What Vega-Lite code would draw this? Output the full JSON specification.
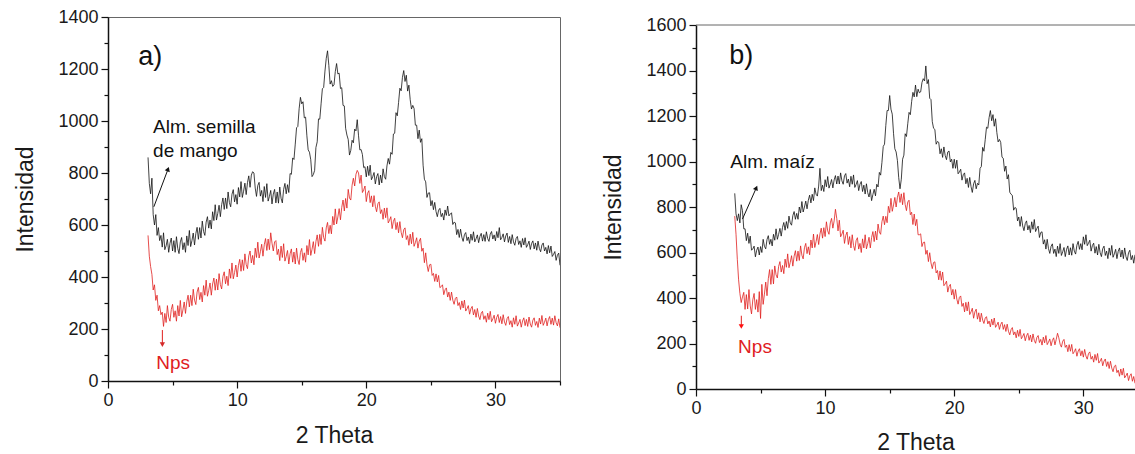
{
"$schema": "https://vega.github.io/schema/vega-lite/v6.json",
"background": "white",
"padding": {"left": 14, "top": 7, "right": 0, "bottom": 0},
"spacing": 40,
"config": {
  "font": "Liberation Sans",
  "view": {"stroke": null},
  "axis": {"labelFont": "Liberation Sans", "labelFontSize": 18, "labelColor": "#1a1a1a", "titleFont": "Liberation Sans", "titleFontSize": 23, "titleFontWeight": "normal", "titleColor": "#1a1a1a", "domainColor": "#111111", "domainWidth": 1.5, "tickColor": "#111111", "tickWidth": 1.2, "grid": false, "labelFlush": false, "labelOverlap": false, "format": "d"}
},
"datasets": {
"a": [
{"x":3.1,"k":860,"r":560},{"x":3.2,"k":760,"r":480},{"x":3.3,"k":720,"r":440},{"x":3.4,"k":780,"r":410},{"x":3.5,"k":640,"r":350},
{"x":3.6,"k":600,"r":370},{"x":3.7,"k":640,"r":310},{"x":3.8,"k":560,"r":330},{"x":3.9,"k":590,"r":270},{"x":4.0,"k":540,"r":290},
{"x":4.1,"k":560,"r":255},{"x":4.2,"k":515,"r":265},{"x":4.3,"k":570,"r":210},{"x":4.4,"k":505,"r":260},{"x":4.5,"k":520,"r":225},
{"x":4.6,"k":545,"r":290},{"x":4.7,"k":495,"r":245},{"x":4.8,"k":530,"r":230},{"x":4.9,"k":550,"r":275},{"x":5.0,"k":500,"r":295},
{"x":5.1,"k":540,"r":245},{"x":5.2,"k":495,"r":270},{"x":5.3,"k":555,"r":230},{"x":5.4,"k":510,"r":290},{"x":5.5,"k":490,"r":250},
{"x":5.6,"k":535,"r":310},{"x":5.7,"k":552,"r":247},{"x":5.8,"k":505,"r":273},{"x":5.9,"k":532,"r":304},{"x":6.0,"k":495,"r":260},
{"x":6.1,"k":558,"r":305},{"x":6.2,"k":521,"r":330},{"x":6.3,"k":579,"r":285},{"x":6.4,"k":517,"r":330},{"x":6.5,"k":540,"r":290},
{"x":6.6,"k":569,"r":353},{"x":6.7,"k":523,"r":311},{"x":6.8,"k":567,"r":294},{"x":6.9,"k":591,"r":342},{"x":7.0,"k":545,"r":360},
{"x":7.1,"k":590,"r":313},{"x":7.2,"k":550,"r":341},{"x":7.3,"k":615,"r":304},{"x":7.4,"k":575,"r":367},{"x":7.5,"k":560,"r":330},
{"x":7.6,"k":611,"r":388},{"x":7.7,"k":632,"r":326},{"x":7.8,"k":588,"r":349},{"x":7.9,"k":619,"r":377},{"x":8.0,"k":585,"r":330},
{"x":8.1,"k":651,"r":373},{"x":8.2,"k":617,"r":396},{"x":8.3,"k":678,"r":349},{"x":8.4,"k":619,"r":392},{"x":8.5,"k":645,"r":350},
{"x":8.6,"k":676,"r":413},{"x":8.7,"k":632,"r":371},{"x":8.8,"k":678,"r":354},{"x":8.9,"k":704,"r":402},{"x":9.0,"k":660,"r":420},
{"x":9.1,"k":704,"r":374},{"x":9.2,"k":663,"r":403},{"x":9.3,"k":727,"r":367},{"x":9.4,"k":686,"r":431},{"x":9.5,"k":670,"r":395},
{"x":9.6,"k":718,"r":454},{"x":9.7,"k":736,"r":393},{"x":9.8,"k":689,"r":417},{"x":9.9,"k":717,"r":446},{"x":10.0,"k":680,"r":400},
{"x":10.1,"k":744,"r":444},{"x":10.2,"k":708,"r":468},{"x":10.3,"k":767,"r":422},{"x":10.4,"k":706,"r":466},{"x":10.5,"k":730,"r":425},
{"x":10.6,"k":761,"r":489},{"x":10.7,"k":717,"r":448},{"x":10.8,"k":763,"r":432},{"x":10.9,"k":789,"r":481},{"x":11.0,"k":745,"r":500},
{"x":11.1,"k":792,"r":454},{"x":11.2,"k":805,"r":483},{"x":11.3,"k":800,"r":447},{"x":11.4,"k":742,"r":511},{"x":11.5,"k":710,"r":475},
{"x":11.6,"k":752,"r":534},{"x":11.7,"k":764,"r":473},{"x":11.8,"k":711,"r":497},{"x":11.9,"k":733,"r":526},{"x":12.0,"k":690,"r":480},
{"x":12.1,"k":748,"r":524},{"x":12.2,"k":706,"r":548},{"x":12.3,"k":759,"r":502},{"x":12.4,"k":692,"r":546},{"x":12.5,"k":710,"r":505},
{"x":12.6,"k":733,"r":570},{"x":12.7,"k":681,"r":530},{"x":12.8,"k":719,"r":500},{"x":12.9,"k":737,"r":535},{"x":13.0,"k":685,"r":540},
{"x":13.1,"k":727,"r":486},{"x":13.2,"k":684,"r":507},{"x":13.3,"k":746,"r":463},{"x":13.4,"k":703,"r":519},{"x":13.5,"k":685,"r":475},
{"x":13.6,"k":737,"r":528},{"x":13.7,"k":760,"r":461},{"x":13.8,"k":720,"r":479},{"x":13.9,"k":755,"r":502},{"x":14.0,"k":725,"r":450},
{"x":14.1,"k":798,"r":489},{"x":14.2,"k":795,"r":508},{"x":14.3,"k":858,"r":457},{"x":14.4,"k":852,"r":496},{"x":14.5,"k":911,"r":450},
{"x":14.6,"k":974,"r":511},{"x":14.7,"k":979,"r":467},{"x":14.8,"k":1047,"r":448},{"x":14.9,"k":1091,"r":494},{"x":15.0,"k":1066,"r":510},
{"x":15.1,"k":1074,"r":464},{"x":15.2,"k":1012,"r":493},{"x":15.3,"k":1015,"r":457},{"x":15.4,"k":943,"r":521},{"x":15.5,"k":889,"r":485},
{"x":15.6,"k":880,"r":544},{"x":15.7,"k":851,"r":483},{"x":15.8,"k":786,"r":507},{"x":15.9,"k":794,"r":536},{"x":16.0,"k":810,"r":490},
{"x":16.1,"k":898,"r":536},{"x":16.2,"k":920,"r":562},{"x":16.3,"k":1008,"r":518},{"x":16.4,"k":1007,"r":564},{"x":16.5,"k":1066,"r":525},
{"x":16.6,"k":1124,"r":591},{"x":16.7,"k":1129,"r":552},{"x":16.8,"k":1192,"r":538},{"x":16.9,"k":1241,"r":589},{"x":17.0,"k":1270,"r":610},
{"x":17.1,"k":1214,"r":567},{"x":17.2,"k":1142,"r":599},{"x":17.3,"k":1155,"r":566},{"x":17.4,"k":1133,"r":633},{"x":17.5,"k":1139,"r":600},
{"x":17.6,"k":1190,"r":662},{"x":17.7,"k":1221,"r":604},{"x":17.8,"k":1181,"r":631},{"x":17.9,"k":1184,"r":663},{"x":18.0,"k":1125,"r":620},
{"x":18.1,"k":1128,"r":668},{"x":18.2,"k":1060,"r":696},{"x":18.3,"k":1058,"r":654},{"x":18.4,"k":972,"r":702},{"x":18.5,"k":946,"r":665},
{"x":18.6,"k":929,"r":737},{"x":18.7,"k":869,"r":704},{"x":18.8,"k":887,"r":696},{"x":18.9,"k":926,"r":753},{"x":19.0,"k":916,"r":780},
{"x":19.1,"k":969,"r":750},{"x":19.2,"k":962,"r":795},{"x":19.3,"k":1005,"r":810},{"x":19.4,"k":943,"r":800},{"x":19.5,"k":889,"r":760},
{"x":19.6,"k":890,"r":792},{"x":19.7,"k":871,"r":725},{"x":19.8,"k":821,"r":735},{"x":19.9,"k":824,"r":750},{"x":20.0,"k":785,"r":690},
{"x":20.1,"k":826,"r":722},{"x":20.2,"k":790,"r":732},{"x":20.3,"k":830,"r":686},{"x":20.4,"k":774,"r":712},{"x":20.5,"k":786,"r":670},
{"x":20.6,"k":802,"r":713},{"x":20.7,"k":758,"r":672},{"x":20.8,"k":786,"r":651},{"x":20.9,"k":798,"r":682},{"x":21.0,"k":754,"r":689},
{"x":21.1,"k":792,"r":644},{"x":21.2,"k":762,"r":659},{"x":21.3,"k":816,"r":622},{"x":21.4,"k":786,"r":665},{"x":21.5,"k":776,"r":628},
{"x":21.6,"k":827,"r":666},{"x":21.7,"k":856,"r":608},{"x":21.8,"k":834,"r":618},{"x":21.9,"k":879,"r":632},{"x":22.0,"k":872,"r":586},
{"x":22.1,"k":950,"r":614},{"x":22.2,"k":953,"r":626},{"x":22.3,"k":1032,"r":582},{"x":22.4,"k":1020,"r":610},{"x":22.5,"k":1071,"r":570},
{"x":22.6,"k":1126,"r":613},{"x":22.7,"k":1116,"r":572},{"x":22.8,"k":1168,"r":551},{"x":22.9,"k":1194,"r":582},{"x":23.0,"k":1152,"r":589},
{"x":23.1,"k":1176,"r":544},{"x":23.2,"k":1115,"r":559},{"x":23.3,"k":1138,"r":522},{"x":23.4,"k":1082,"r":565},{"x":23.5,"k":1046,"r":528},
{"x":23.6,"k":1060,"r":572},{"x":23.7,"k":1048,"r":518},{"x":23.8,"k":984,"r":532},{"x":23.9,"k":984,"r":551},{"x":24.0,"k":932,"r":511},
{"x":24.1,"k":965,"r":538},{"x":24.2,"k":918,"r":549},{"x":24.3,"k":932,"r":499},{"x":24.4,"k":830,"r":511},{"x":24.5,"k":776,"r":455},
{"x":24.6,"k":766,"r":493},{"x":24.7,"k":706,"r":447},{"x":24.8,"k":723,"r":421},{"x":24.9,"k":724,"r":447},{"x":25.0,"k":674,"r":449},
{"x":25.1,"k":694,"r":406},{"x":25.2,"k":659,"r":414},{"x":25.3,"k":687,"r":383},{"x":25.4,"k":652,"r":412},{"x":25.5,"k":632,"r":381},
{"x":25.6,"k":657,"r":406},{"x":25.7,"k":664,"r":359},{"x":25.8,"k":632,"r":363},{"x":25.9,"k":645,"r":370},{"x":26.0,"k":619,"r":332},
{"x":26.1,"k":658,"r":351},{"x":26.2,"k":637,"r":358},{"x":26.3,"k":673,"r":323},{"x":26.4,"k":635,"r":342},{"x":26.5,"k":642,"r":310},
{"x":26.6,"k":647,"r":342},{"x":26.7,"k":602,"r":311},{"x":26.8,"k":611,"r":295},{"x":26.9,"k":608,"r":318},{"x":27.0,"k":563,"r":323},
{"x":27.1,"k":583,"r":290},{"x":27.2,"k":552,"r":302},{"x":27.3,"k":584,"r":275},{"x":27.4,"k":553,"r":308},{"x":27.5,"k":537,"r":281},
{"x":27.6,"k":563,"r":311},{"x":27.7,"k":571,"r":269},{"x":27.8,"k":540,"r":278},{"x":27.9,"k":554,"r":290},{"x":28.0,"k":529,"r":257},
{"x":28.1,"k":565,"r":278},{"x":28.2,"k":541,"r":287},{"x":28.3,"k":574,"r":254},{"x":28.4,"k":535,"r":275},{"x":28.5,"k":547,"r":245},
{"x":28.6,"k":562,"r":279},{"x":28.7,"k":532,"r":250},{"x":28.8,"k":556,"r":236},{"x":28.9,"k":568,"r":261},{"x":29.0,"k":538,"r":268},
{"x":29.1,"k":563,"r":237},{"x":29.2,"k":537,"r":251},{"x":29.3,"k":574,"r":226},{"x":29.4,"k":548,"r":261},{"x":29.5,"k":537,"r":236},
{"x":29.6,"k":565,"r":268},{"x":29.7,"k":575,"r":228},{"x":29.8,"k":546,"r":239},{"x":29.9,"k":562,"r":253},{"x":30.0,"k":539,"r":222},
{"x":30.1,"k":575,"r":245},{"x":30.2,"k":551,"r":256},{"x":30.3,"k":590,"r":225},{"x":30.4,"k":543,"r":248},{"x":30.5,"k":552,"r":220},
{"x":30.6,"k":566,"r":255},{"x":30.7,"k":535,"r":227},{"x":30.8,"k":558,"r":214},{"x":30.9,"k":569,"r":240},{"x":31.0,"k":533,"r":248},
{"x":31.1,"k":556,"r":217},{"x":31.2,"k":528,"r":232},{"x":31.3,"k":563,"r":207},{"x":31.4,"k":535,"r":243},{"x":31.5,"k":522,"r":218},
{"x":31.6,"k":548,"r":251},{"x":31.7,"k":556,"r":211},{"x":31.8,"k":525,"r":223},{"x":31.9,"k":539,"r":237},{"x":32.0,"k":514,"r":207},
{"x":32.1,"k":548,"r":231},{"x":32.2,"k":523,"r":243},{"x":32.3,"k":551,"r":213},{"x":32.4,"k":514,"r":237},{"x":32.5,"k":524,"r":210},
{"x":32.6,"k":538,"r":246},{"x":32.7,"k":506,"r":219},{"x":32.8,"k":529,"r":207},{"x":32.9,"k":539,"r":234},{"x":33.0,"k":508,"r":243},
{"x":33.1,"k":531,"r":214},{"x":33.2,"k":503,"r":229},{"x":33.3,"k":538,"r":206},{"x":33.4,"k":510,"r":242},{"x":33.5,"k":497,"r":219},
{"x":33.6,"k":523,"r":252},{"x":33.7,"k":531,"r":214},{"x":33.8,"k":500,"r":226},{"x":33.9,"k":514,"r":242},{"x":34.0,"k":489,"r":212},
{"x":34.1,"k":521,"r":236},{"x":34.2,"k":493,"r":248},{"x":34.3,"k":519,"r":218},{"x":34.4,"k":479,"r":242},{"x":34.5,"k":487,"r":215},
{"x":34.6,"k":498,"r":251},{"x":34.7,"k":464,"r":224},{"x":34.8,"k":484,"r":212},{"x":34.9,"k":492,"r":239},{"x":35.0,"k":445,"r":205}
],
"b": [
{"x":3.0,"k":860,"r":760},{"x":3.1,"k":770,"r":680},{"x":3.2,"k":740,"r":570},{"x":3.3,"k":770,"r":480},{"x":3.4,"k":730,"r":420},
{"x":3.5,"k":810,"r":380},{"x":3.6,"k":784,"r":405},{"x":3.7,"k":704,"r":425},{"x":3.8,"k":704,"r":350},{"x":3.9,"k":652,"r":415},
{"x":4.0,"k":685,"r":352},{"x":4.1,"k":640,"r":437},{"x":4.2,"k":672,"r":365},{"x":4.3,"k":610,"r":330},{"x":4.4,"k":616,"r":392},
{"x":4.5,"k":628,"r":420},{"x":4.6,"k":581,"r":350},{"x":4.7,"k":610,"r":393},{"x":4.8,"k":624,"r":338},{"x":4.9,"k":589,"r":428},
{"x":5.0,"k":626,"r":310},{"x":5.1,"k":600,"r":460},{"x":5.2,"k":658,"r":372},{"x":5.3,"k":627,"r":417},{"x":5.4,"k":616,"r":470},
{"x":5.5,"k":657,"r":410},{"x":5.6,"k":674,"r":485},{"x":5.7,"k":636,"r":525},{"x":5.8,"k":658,"r":460},{"x":5.9,"k":629,"r":525},
{"x":6.0,"k":680,"r":462},{"x":6.1,"k":654,"r":541},{"x":6.2,"k":704,"r":502},{"x":6.3,"k":658,"r":488},{"x":6.4,"k":680,"r":539},
{"x":6.5,"k":706,"r":560},{"x":6.6,"k":672,"r":514},{"x":6.7,"k":710,"r":543},{"x":6.8,"k":732,"r":507},{"x":6.9,"k":698,"r":571},
{"x":7.0,"k":736,"r":535},{"x":7.1,"k":706,"r":594},{"x":7.2,"k":760,"r":533},{"x":7.3,"k":730,"r":557},{"x":7.4,"k":720,"r":586},
{"x":7.5,"k":762,"r":540},{"x":7.6,"k":780,"r":584},{"x":7.7,"k":746,"r":608},{"x":7.8,"k":772,"r":562},{"x":7.9,"k":746,"r":606},
{"x":8.0,"k":800,"r":565},{"x":8.1,"k":774,"r":629},{"x":8.2,"k":824,"r":588},{"x":8.3,"k":778,"r":572},{"x":8.4,"k":800,"r":621},
{"x":8.5,"k":826,"r":640},{"x":8.6,"k":792,"r":595},{"x":8.7,"k":830,"r":625},{"x":8.8,"k":852,"r":590},{"x":8.9,"k":818,"r":655},
{"x":9.0,"k":856,"r":620},{"x":9.1,"k":828,"r":681},{"x":9.2,"k":884,"r":622},{"x":9.3,"k":856,"r":648},{"x":9.4,"k":848,"r":679},
{"x":9.5,"k":892,"r":635},{"x":9.6,"k":970,"r":681},{"x":9.7,"k":872,"r":707},{"x":9.8,"k":896,"r":663},{"x":9.9,"k":868,"r":709},
{"x":10.0,"k":920,"r":670},{"x":10.1,"k":889,"r":735},{"x":10.2,"k":934,"r":695},{"x":10.3,"k":883,"r":680},{"x":10.4,"k":900,"r":730},
{"x":10.5,"k":921,"r":750},{"x":10.6,"k":884,"r":707},{"x":10.7,"k":919,"r":739},{"x":10.8,"k":938,"r":790},{"x":10.9,"k":901,"r":750},
{"x":11.0,"k":936,"r":695},{"x":11.1,"k":901,"r":742},{"x":11.2,"k":950,"r":669},{"x":11.3,"k":915,"r":681},{"x":11.4,"k":900,"r":698},
{"x":11.5,"k":937,"r":640},{"x":11.6,"k":947,"r":675},{"x":11.7,"k":905,"r":690},{"x":11.8,"k":923,"r":635},{"x":11.9,"k":889,"r":670},
{"x":12.0,"k":935,"r":620},{"x":12.1,"k":900,"r":678},{"x":12.2,"k":941,"r":631},{"x":12.3,"k":886,"r":609},{"x":12.4,"k":899,"r":652},
{"x":12.5,"k":916,"r":665},{"x":12.6,"k":872,"r":615},{"x":12.7,"k":900,"r":640},{"x":12.8,"k":912,"r":600},{"x":12.9,"k":868,"r":660},
{"x":13.0,"k":896,"r":620},{"x":13.1,"k":857,"r":678},{"x":13.2,"k":902,"r":616},{"x":13.3,"k":863,"r":639},{"x":13.4,"k":844,"r":667},
{"x":13.5,"k":877,"r":620},{"x":13.6,"k":828,"r":666},{"x":13.7,"k":855,"r":692},{"x":13.8,"k":878,"r":648},{"x":13.9,"k":849,"r":694},
{"x":14.0,"k":900,"r":655},{"x":14.1,"k":888,"r":725},{"x":14.2,"k":952,"r":690},{"x":14.3,"k":940,"r":680},{"x":14.4,"k":996,"r":735},
{"x":14.5,"k":1066,"r":760},{"x":14.6,"k":1076,"r":722},{"x":14.7,"k":1158,"r":759},{"x":14.8,"k":1224,"r":731},{"x":14.9,"k":1224,"r":803},
{"x":15.0,"k":1290,"r":775},{"x":15.1,"k":1230,"r":838},{"x":15.2,"k":1208,"r":781},{"x":15.3,"k":1122,"r":809},{"x":15.4,"k":1056,"r":842},
{"x":15.5,"k":1042,"r":800},{"x":15.6,"k":1004,"r":843},{"x":15.7,"k":929,"r":866},{"x":15.8,"k":880,"r":820},{"x":15.9,"k":922,"r":858},
{"x":16.0,"k":1010,"r":810},{"x":16.1,"k":1028,"r":863},{"x":16.2,"k":1122,"r":811},{"x":16.3,"k":1110,"r":784},{"x":16.4,"k":1166,"r":822},
{"x":16.5,"k":1216,"r":830},{"x":16.6,"k":1206,"r":766},{"x":16.7,"k":1263,"r":777},{"x":16.8,"k":1304,"r":723},{"x":16.9,"k":1284,"r":769},
{"x":17.0,"k":1336,"r":718},{"x":17.1,"k":1285,"r":746},{"x":17.2,"k":1318,"r":678},{"x":17.3,"k":1302,"r":678},{"x":17.4,"k":1306,"r":682},
{"x":17.5,"k":1347,"r":626},{"x":17.6,"k":1364,"r":644},{"x":17.7,"k":1354,"r":646},{"x":17.8,"k":1420,"r":592},{"x":17.9,"k":1342,"r":610},
{"x":18.0,"k":1360,"r":560},{"x":18.1,"k":1278,"r":599},{"x":18.2,"k":1272,"r":554},{"x":18.3,"k":1175,"r":529},{"x":18.4,"k":1146,"r":556},
{"x":18.5,"k":1141,"r":559},{"x":18.6,"k":1076,"r":510},{"x":18.7,"k":1088,"r":521},{"x":18.8,"k":1084,"r":480},{"x":18.9,"k":1034,"r":519},
{"x":19.0,"k":1056,"r":478},{"x":19.1,"k":1018,"r":514},{"x":19.2,"k":1064,"r":454},{"x":19.3,"k":1026,"r":462},{"x":19.4,"k":1008,"r":474},
{"x":19.5,"k":1042,"r":426},{"x":19.6,"k":1046,"r":451},{"x":19.7,"k":998,"r":460},{"x":19.8,"k":1010,"r":413},{"x":19.9,"k":970,"r":438},
{"x":20.0,"k":1010,"r":395},{"x":20.1,"k":970,"r":437},{"x":20.2,"k":1006,"r":395},{"x":20.3,"k":946,"r":373},{"x":20.4,"k":954,"r":403},
{"x":20.5,"k":966,"r":409},{"x":20.6,"k":918,"r":363},{"x":20.7,"k":942,"r":377},{"x":20.8,"k":950,"r":339},{"x":20.9,"k":902,"r":381},
{"x":21.0,"k":926,"r":343},{"x":21.1,"k":886,"r":383},{"x":21.2,"k":930,"r":327},{"x":21.3,"k":890,"r":339},{"x":21.4,"k":864,"r":355},
{"x":21.5,"k":902,"r":311},{"x":21.6,"k":917,"r":339},{"x":21.7,"k":880,"r":351},{"x":21.8,"k":904,"r":307},{"x":21.9,"k":897,"r":335},
{"x":22.0,"k":970,"r":295},{"x":22.1,"k":978,"r":333},{"x":22.2,"k":1062,"r":303},{"x":22.3,"k":1045,"r":288},{"x":22.4,"k":1096,"r":312},
{"x":22.5,"k":1151,"r":318},{"x":22.6,"k":1146,"r":286},{"x":22.7,"k":1193,"r":299},{"x":22.8,"k":1224,"r":273},{"x":22.9,"k":1179,"r":307},
{"x":23.0,"k":1206,"r":281},{"x":23.1,"k":1155,"r":312},{"x":23.2,"k":1188,"r":271},{"x":23.3,"k":1127,"r":281},{"x":23.4,"k":1086,"r":294},
{"x":23.5,"k":1097,"r":262},{"x":23.6,"k":1084,"r":284},{"x":23.7,"k":1019,"r":294},{"x":23.8,"k":1014,"r":262},{"x":23.9,"k":957,"r":283},
{"x":24.0,"k":980,"r":253},{"x":24.1,"k":923,"r":285},{"x":24.2,"k":942,"r":254},{"x":24.3,"k":865,"r":238},{"x":24.4,"k":856,"r":261},
{"x":24.5,"k":851,"r":270},{"x":24.6,"k":786,"r":238},{"x":24.7,"k":798,"r":251},{"x":24.8,"k":794,"r":225},{"x":24.9,"k":739,"r":258},
{"x":25.0,"k":756,"r":231},{"x":25.1,"k":715,"r":262},{"x":25.2,"k":758,"r":221},{"x":25.3,"k":717,"r":231},{"x":25.4,"k":696,"r":244},
{"x":25.5,"k":727,"r":212},{"x":25.6,"k":739,"r":234},{"x":25.7,"k":699,"r":245},{"x":25.8,"k":719,"r":214},{"x":25.9,"k":687,"r":237},
{"x":26.0,"k":735,"r":207},{"x":26.1,"k":702,"r":242},{"x":26.2,"k":745,"r":214},{"x":26.3,"k":692,"r":201},{"x":26.4,"k":706,"r":227},
{"x":26.5,"k":716,"r":235},{"x":26.6,"k":666,"r":204},{"x":26.7,"k":688,"r":218},{"x":26.8,"k":691,"r":193},{"x":26.9,"k":637,"r":228},
{"x":27.0,"k":656,"r":203},{"x":27.1,"k":615,"r":235},{"x":27.2,"k":658,"r":195},{"x":27.3,"k":617,"r":206},{"x":27.4,"k":596,"r":220},
{"x":27.5,"k":627,"r":190},{"x":27.6,"k":638,"r":213},{"x":27.7,"k":596,"r":225},{"x":27.8,"k":615,"r":194},{"x":27.9,"k":582,"r":218},
{"x":28.0,"k":628,"r":245},{"x":28.1,"k":596,"r":225},{"x":28.2,"k":639,"r":197},{"x":28.3,"k":587,"r":184},{"x":28.4,"k":603,"r":210},
{"x":28.5,"k":622,"r":218},{"x":28.6,"k":582,"r":183},{"x":28.7,"k":614,"r":193},{"x":28.8,"k":629,"r":164},{"x":28.9,"k":589,"r":195},
{"x":29.0,"k":621,"r":166},{"x":29.1,"k":588,"r":196},{"x":29.2,"k":639,"r":155},{"x":29.3,"k":606,"r":164},{"x":29.4,"k":593,"r":177},
{"x":29.5,"k":632,"r":144},{"x":29.6,"k":649,"r":167},{"x":29.7,"k":614,"r":177},{"x":29.8,"k":639,"r":146},{"x":29.9,"k":612,"r":168},
{"x":30.0,"k":669,"r":140},{"x":30.1,"k":636,"r":174},{"x":30.2,"k":678,"r":145},{"x":30.3,"k":630,"r":131},{"x":30.4,"k":641,"r":156},
{"x":30.5,"k":654,"r":163},{"x":30.6,"k":606,"r":131},{"x":30.7,"k":631,"r":144},{"x":30.8,"k":641,"r":118},{"x":30.9,"k":597,"r":152},
{"x":31.0,"k":626,"r":126},{"x":31.1,"k":589,"r":156},{"x":31.2,"k":636,"r":114},{"x":31.3,"k":599,"r":123},{"x":31.4,"k":582,"r":135},
{"x":31.5,"k":617,"r":102},{"x":31.6,"k":628,"r":123},{"x":31.7,"k":587,"r":132},{"x":31.8,"k":606,"r":99},{"x":31.9,"k":573,"r":120},
{"x":32.0,"k":620,"r":90},{"x":32.1,"k":588,"r":122},{"x":32.2,"k":631,"r":92},{"x":32.3,"k":579,"r":76},{"x":32.4,"k":594,"r":100},
{"x":32.5,"k":614,"r":105},{"x":32.6,"k":573,"r":72},{"x":32.7,"k":605,"r":83},{"x":32.8,"k":620,"r":56},{"x":32.9,"k":580,"r":88},
{"x":33.0,"k":611,"r":61},{"x":33.1,"k":573,"r":91},{"x":33.2,"k":620,"r":49},{"x":33.3,"k":582,"r":58},{"x":33.4,"k":565,"r":70},
{"x":33.5,"k":599,"r":37},{"x":33.6,"k":610,"r":58},{"x":33.7,"k":568,"r":67},{"x":33.8,"k":587,"r":34},{"x":33.9,"k":553,"r":55},
{"x":34.0,"k":590,"r":25}
],
"annA": [
{"x":2.35,"y":1246,"t":"a)","kind":"panel","s":"k"},
{"x":3.49,"y":977,"t":"Alm. semilla","kind":"lab","s":"k"},
{"x":3.49,"y":886,"t":"de mango","kind":"lab","s":"k"},
{"x":3.74,"y":69,"t":"Nps","kind":"lab","s":"r"}
],
"arrA": [
{"x":3.55,"y":670,"s":"k","head":0},
{"x":4.65,"y":815,"s":"k","head":1},
{"x":4.21,"y":196,"s":"r","head":0},
{"x":4.21,"y":140,"s":"r","head":1}
],
"annB": [
{"x":2.58,"y":1462,"t":"b)","kind":"panel","s":"k"},
{"x":2.66,"y":999,"t":"Alm. maíz","kind":"lab","s":"k"},
{"x":3.26,"y":185,"t":"Nps","kind":"lab","s":"r"}
],
"arrB": [
{"x":3.6,"y":747,"s":"k","head":0},
{"x":4.67,"y":884,"s":"k","head":1},
{"x":3.51,"y":322,"s":"r","head":0},
{"x":3.51,"y":275,"s":"r","head":1}
],
"topB": [
{"x":0,"x2":34,"y":1600}
]
},
"hconcat": [
{
 "width": 452, "height": 364,
 "view": {"stroke": "#666666", "strokeWidth": 1},
 "encoding": {
  "x": {"field": "x", "type": "quantitative", "scale": {"domain": [0, 35], "nice": false, "zero": false},
        "axis": {"title": "2 Theta", "values": [0,5,10,15,20,25,30,35], "labelExpr": "datum.value % 10 === 0 ? datum.label : ''",
                 "tickSize": {"condition": {"test": "datum.value % 10 === 0", "value": 7}, "value": 4}, "labelPadding": 3, "titlePadding": 15}},
  "y": {"field": "y", "type": "quantitative", "scale": {"domain": [0, 1400], "nice": false},
        "axis": {"title": "Intensidad", "values": [0,100,200,300,400,500,600,700,800,900,1000,1100,1200,1300,1400], "labelExpr": "datum.value % 200 === 0 ? datum.label : ''",
                 "tickSize": {"condition": {"test": "datum.value % 200 === 0", "value": 7}, "value": 4}, "labelPadding": 3, "titlePadding": 20}}
 },
 "layer": [
  {"data": {"name": "a"}, "transform": [{"fold": ["k", "r"], "as": ["s", "y"]}],
   "mark": {"type": "line", "strokeWidth": 0.8, "clip": true},
   "encoding": {"color": {"field": "s", "type": "nominal", "scale": {"domain": ["k", "r"], "range": ["#111111", "#e0201e"]}, "legend": null}}},
  {"data": {"name": "arrA"}, "mark": {"type": "line", "strokeWidth": 1},
   "encoding": {"color": {"field": "s", "type": "nominal", "scale": {"domain": ["k", "r"], "range": ["#111111", "#e0201e"]}, "legend": null}, "detail": {"field": "s"}}},
  {"data": {"name": "arrA"}, "transform": [{"filter": "datum.head == 1 && datum.s == 'k'"}],
   "mark": {"type": "point", "shape": "triangle-up", "angle": 20, "filled": true, "size": 28, "color": "#111111", "opacity": 1}},
  {"data": {"name": "arrA"}, "transform": [{"filter": "datum.head == 1 && datum.s == 'r'"}],
   "mark": {"type": "point", "shape": "triangle-down", "filled": true, "size": 28, "color": "#d42a2a", "opacity": 1}},
  {"data": {"name": "annA"}, "transform": [{"filter": "datum.kind == 'panel'"}],
   "mark": {"type": "text", "align": "left", "baseline": "middle", "fontSize": 27, "font": "Liberation Sans", "color": "#111111"},
   "encoding": {"text": {"field": "t"}}},
  {"data": {"name": "annA"}, "transform": [{"filter": "datum.kind == 'lab'"}],
   "mark": {"type": "text", "align": "left", "baseline": "middle", "fontSize": 19, "font": "Liberation Sans"},
   "encoding": {"text": {"field": "t"}, "color": {"field": "s", "type": "nominal", "scale": {"domain": ["k", "r"], "range": ["#111111", "#d42a2a"]}, "legend": null}}}
 ]
},
{
 "spacing": -2,
 "vconcat": [
  {"width": 439, "height": 1, "data": {"values": []}, "mark": {"type": "point", "opacity": 0}},
  {
   "width": 439, "height": 364,
   "encoding": {
    "x": {"field": "x", "type": "quantitative", "scale": {"domain": [0, 34], "nice": false, "zero": false},
          "axis": {"title": "2 Theta", "values": [0,5,10,15,20,25,30], "labelExpr": "datum.value % 10 === 0 ? datum.label : ''",
                   "tickSize": {"condition": {"test": "datum.value % 10 === 0", "value": 7}, "value": 4}, "labelPadding": 3, "titlePadding": 14}},
    "y": {"field": "y", "type": "quantitative", "scale": {"domain": [0, 1600], "nice": false},
          "axis": {"title": "Intensidad", "values": [0,100,200,300,400,500,600,700,800,900,1000,1100,1200,1300,1400,1500,1600], "labelExpr": "datum.value % 200 === 0 ? datum.label : ''",
                   "tickSize": {"condition": {"test": "datum.value % 200 === 0", "value": 7}, "value": 4}, "labelPadding": 3, "titlePadding": 20}}
   },
   "layer": [
    {"data": {"name": "topB"}, "mark": {"type": "rule", "color": "#666666", "strokeWidth": 1},
     "encoding": {"x2": {"field": "x2"}}},
    {"data": {"name": "b"}, "transform": [{"fold": ["k", "r"], "as": ["s", "y"]}],
     "mark": {"type": "line", "strokeWidth": 0.8, "clip": true},
     "encoding": {"color": {"field": "s", "type": "nominal", "scale": {"domain": ["k", "r"], "range": ["#111111", "#ff1010"]}, "legend": null}}},
    {"data": {"name": "arrB"}, "mark": {"type": "line", "strokeWidth": 1},
     "encoding": {"color": {"field": "s", "type": "nominal", "scale": {"domain": ["k", "r"], "range": ["#111111", "#ff1010"]}, "legend": null}, "detail": {"field": "s"}}},
    {"data": {"name": "arrB"}, "transform": [{"filter": "datum.head == 1 && datum.s == 'k'"}],
     "mark": {"type": "point", "shape": "triangle-up", "angle": 24, "filled": true, "size": 28, "color": "#111111", "opacity": 1}},
    {"data": {"name": "arrB"}, "transform": [{"filter": "datum.head == 1 && datum.s == 'r'"}],
     "mark": {"type": "point", "shape": "triangle-down", "filled": true, "size": 28, "color": "#ff1010", "opacity": 1}},
    {"data": {"name": "annB"}, "transform": [{"filter": "datum.kind == 'panel'"}],
     "mark": {"type": "text", "align": "left", "baseline": "middle", "fontSize": 27, "font": "Liberation Sans", "color": "#111111"},
     "encoding": {"text": {"field": "t"}}},
    {"data": {"name": "annB"}, "transform": [{"filter": "datum.kind == 'lab'"}],
     "mark": {"type": "text", "align": "left", "baseline": "middle", "fontSize": 19, "font": "Liberation Sans"},
     "encoding": {"text": {"field": "t"}, "color": {"field": "s", "type": "nominal", "scale": {"domain": ["k", "r"], "range": ["#111111", "#ff1010"]}, "legend": null}}}
   ]
  }
 ]
}
]
}
